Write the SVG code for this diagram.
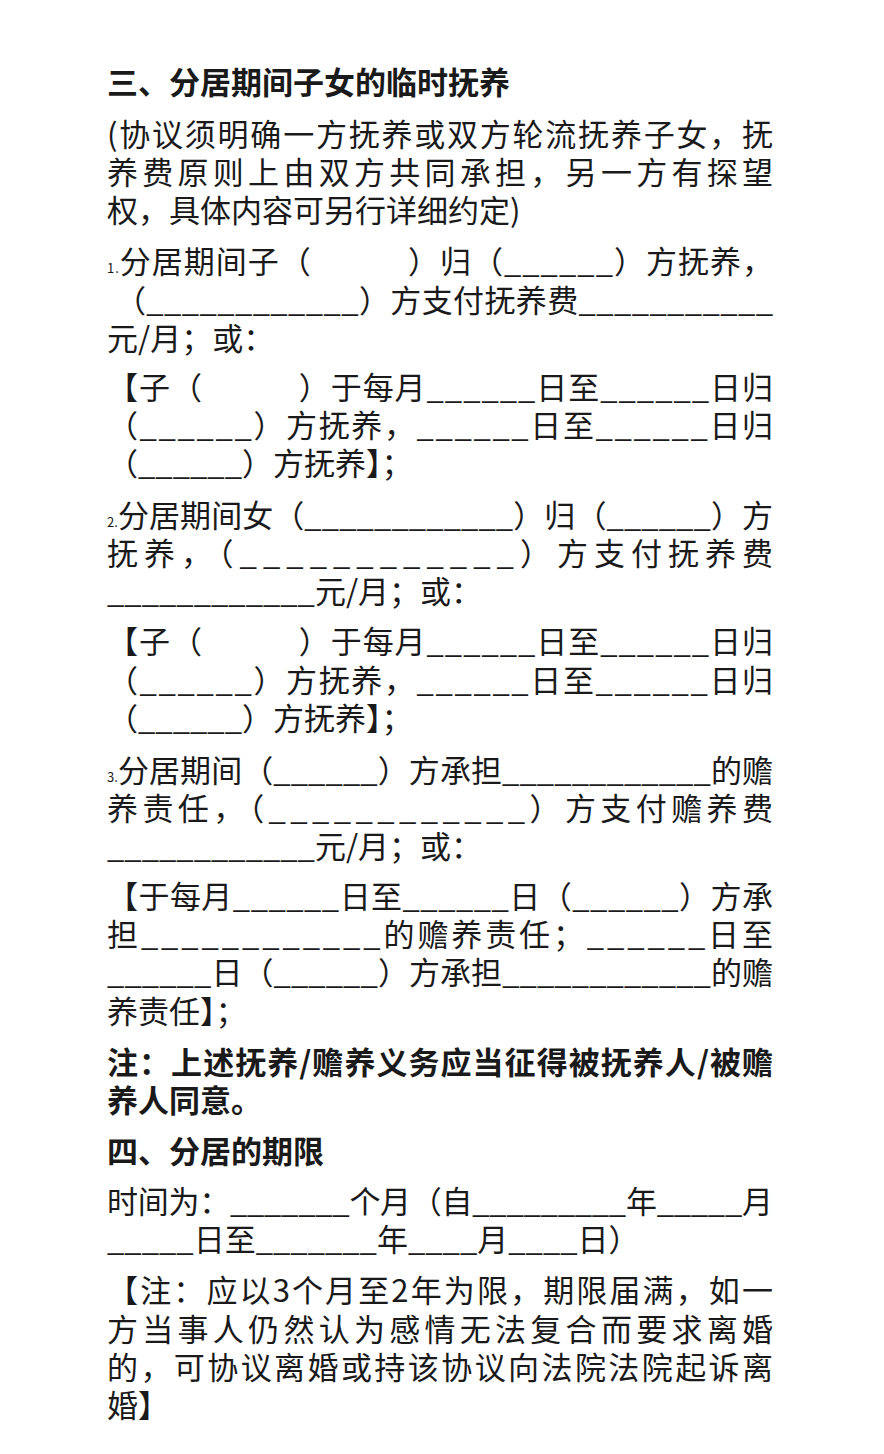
<svg xmlns="http://www.w3.org/2000/svg" width="884" height="1454" viewBox="0 0 884 1454">
<style>
text{font-family:"Noto Sans CJK SC","Noto Sans",sans-serif;font-size:31px;fill:#1a1a1a}
.b{font-weight:bold}
.n{font-size:13px}
</style>
<rect width="884" height="1454" fill="#fff"/>
<g id="text">
<text class="b" x="107" y="94">三、分居期间子女的临时抚养</text>
<text x="107" y="146" textLength="666" lengthAdjust="spacing">(协议须明确一方抚养或双方轮流抚养子女，抚</text>
<text x="107" y="184" textLength="666" lengthAdjust="spacing">养费原则上由双方共同承担，另一方有探望</text>
<text x="107" y="222">权，具体内容可另行详细约定)</text>
<text x="107" y="273" textLength="666" lengthAdjust="spacing"><tspan class="n">1.</tspan>分居期间子（　　　）归（______）方抚养，</text>
<text x="115" y="312" textLength="658" lengthAdjust="spacing">（____________）方支付抚养费___________</text>
<text x="107" y="350">元/月；或：</text>
<text x="107" y="399" textLength="666" lengthAdjust="spacing">【子（　　　）于每月______日至______日归</text>
<text x="107" y="437" textLength="666" lengthAdjust="spacing">（______）方抚养，______日至______日归</text>
<text x="107" y="475">（______）方抚养】；</text>
<text x="107" y="527" textLength="666" lengthAdjust="spacing"><tspan class="n">2.</tspan>分居期间女（____________）归（______）方</text>
<text x="107" y="565" textLength="666" lengthAdjust="spacing">抚养，（____________）方支付抚养费</text>
<text x="107" y="603">____________元/月；或：</text>
<text x="107" y="653" textLength="666" lengthAdjust="spacing">【子（　　　）于每月______日至______日归</text>
<text x="107" y="692" textLength="666" lengthAdjust="spacing">（______）方抚养，______日至______日归</text>
<text x="107" y="730">（______）方抚养】；</text>
<text x="107" y="782" textLength="666" lengthAdjust="spacing"><tspan class="n">3.</tspan>分居期间（______）方承担____________的赡</text>
<text x="107" y="820" textLength="666" lengthAdjust="spacing">养责任，（____________）方支付赡养费</text>
<text x="107" y="858">____________元/月；或：</text>
<text x="107" y="908" textLength="666" lengthAdjust="spacing">【于每月______日至______日（______）方承</text>
<text x="107" y="946" textLength="666" lengthAdjust="spacing">担____________的赡养责任；______日至</text>
<text x="107" y="984" textLength="666" lengthAdjust="spacing">______日（______）方承担____________的赡</text>
<text x="107" y="1023">养责任】；</text>
<text class="b" x="107" y="1074" textLength="666" lengthAdjust="spacing">注：上述抚养/赡养义务应当征得被抚养人/被赡</text>
<text class="b" x="107" y="1112">养人同意。</text>
<text class="b" x="107" y="1163">四、分居的期限</text>
<text x="107" y="1213" textLength="666" lengthAdjust="spacing">时间为：_______个月（自_________年_____月</text>
<text x="107" y="1251">_____日至_______年____月____日）</text>
<text x="107" y="1302" textLength="666" lengthAdjust="spacing">【注：应以3个月至2年为限，期限届满，如一</text>
<text x="107" y="1341" textLength="666" lengthAdjust="spacing">方当事人仍然认为感情无法复合而要求离婚</text>
<text x="107" y="1379" textLength="666" lengthAdjust="spacing">的，可协议离婚或持该协议向法院法院起诉离</text>
<text x="107" y="1417">婚】</text>
</g>
</svg>
